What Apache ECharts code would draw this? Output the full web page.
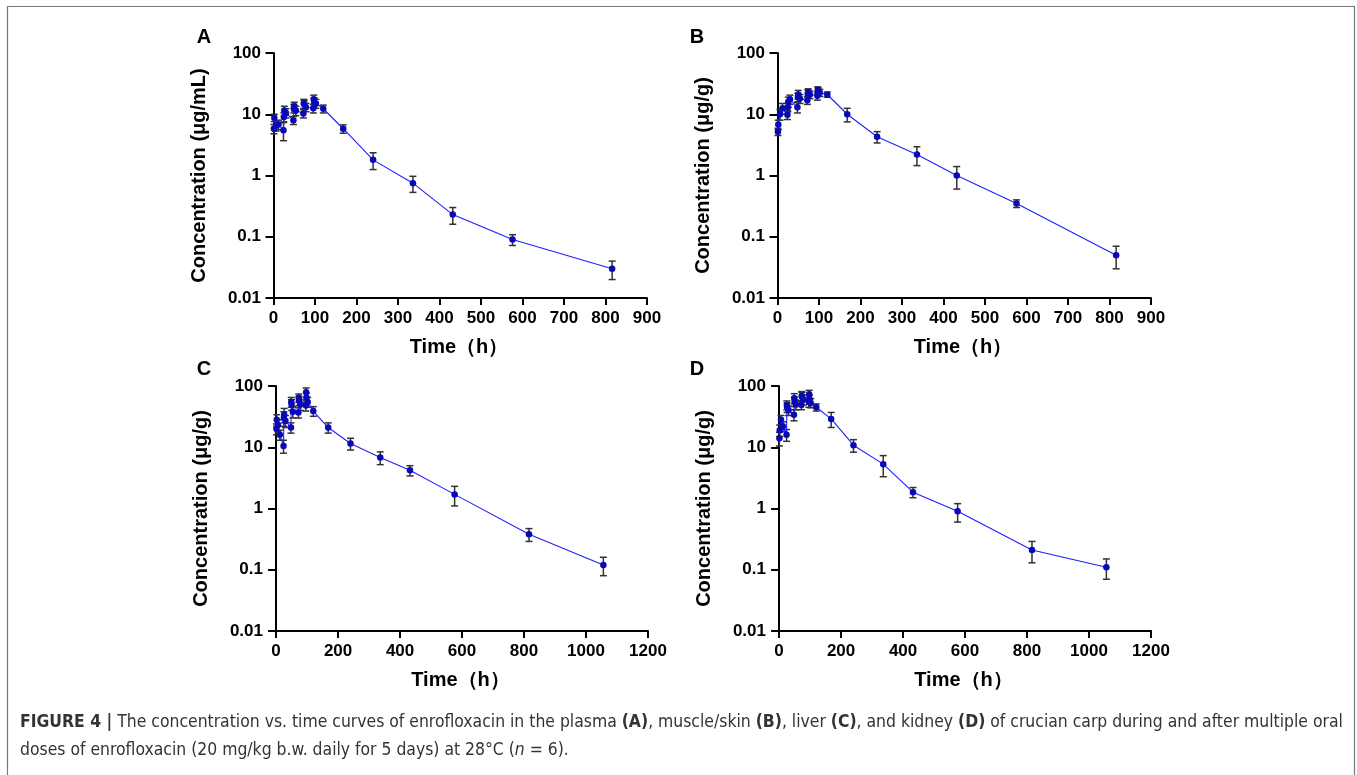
<!DOCTYPE html>
<html>
<head>
<meta charset="utf-8">
<script src="https://cdn.jsdelivr.net/npm/echarts@6/dist/echarts.min.js"></script>
<style>
html,body{margin:0;padding:0;background:#fff;}
#c{width:1357px;height:775px;}
</style>
</head>
<body>
<div id="c"></div>
<script>
// ---- data ----
const timesAB = [1, 2, 6, 12, 24, 25, 26, 30, 48, 49, 50, 54, 72, 73, 74, 78, 96, 97, 98, 102, 120, 168, 240, 336, 432, 576, 816];
const timesCD = [1, 2, 6, 12, 24, 25, 26, 30, 48, 49, 50, 54, 72, 73, 74, 78, 96, 97, 98, 102, 120, 168, 240, 336, 432, 576, 816, 1056];

const plasmaMean = [5.8, 8.8, 6.5, 6.8, 5.5, 9.0, 11.5, 10.5, 8.0, 12.5, 13.5, 11.5, 10.3, 15.0, 14.5, 13.0, 12.5, 17.5, 16.0, 15.0, 12.3, 5.8, 1.8, 0.75, 0.23, 0.09, 0.03];
const plasmaSD   = [1.0, 1.2, 1.2, 1.2, 1.8, 1.5, 2.0, 1.8, 1.2, 2.0, 2.2, 2.0, 1.6, 2.5, 2.2, 2.0, 2.0, 3.0, 2.5, 2.5, 1.8, 0.9, 0.55, 0.22, 0.07, 0.018, 0.01];

const muscleMean = [5.2, 6.8, 10.0, 12.5, 9.8, 13.0, 16.0, 17.5, 13.0, 19.0, 21.0, 18.0, 17.0, 22.0, 23.0, 21.0, 20.0, 25.0, 24.0, 22.5, 21.0, 10.0, 4.3, 2.2, 1.0, 0.35, 0.05];
const muscleSD   = [0.7, 1.2, 2.0, 2.5, 1.6, 2.0, 3.0, 3.0, 2.5, 3.0, 3.5, 3.0, 2.5, 3.0, 3.0, 3.0, 3.0, 3.0, 3.0, 3.0, 2.0, 2.5, 0.9, 0.75, 0.4, 0.05, 0.02];

const liverMean = [20, 28, 23, 16, 10.5, 30, 34, 27, 21, 55, 50, 38, 37, 64, 58, 50, 48, 79, 65, 55, 39, 21, 11.5, 6.8, 4.2, 1.7, 0.38, 0.12];
const liverSD   = [4, 6, 5, 3, 2.5, 8, 9, 6, 4, 10, 10, 8, 7, 10, 10, 10, 9, 14, 12, 10, 7, 4, 2.5, 1.6, 0.8, 0.6, 0.09, 0.04];

const kidneyMean = [14, 19, 28, 22, 16, 49, 45, 40, 34, 63, 56, 50, 49, 69, 67, 60, 55, 73, 61, 53, 45, 29, 10.8, 5.3, 1.85, 0.9, 0.21, 0.11];
const kidneySD   = [3.5, 4, 5, 4, 3.5, 8, 8, 7, 7, 12, 10, 9, 8, 12, 12, 11, 10, 12, 10, 9, 6, 8, 2.5, 2, 0.35, 0.3, 0.08, 0.04];

const xTicksAB = [0, 100, 200, 300, 400, 500, 600, 700, 800, 900];
const xTicksCD = [0, 200, 400, 600, 800, 1000, 1200];
const yTickLabels = ['0.01', '0.1', '1', '10', '100'];

const panelLetters = ['A', 'B', 'C', 'D'];
const yTitles = ['Concentration (μg/mL)', 'Concentration (μg/g)', 'Concentration (μg/g)', 'Concentration (μg/g)'];
const xTitle = 'Time（h）';

// ---- chart ----
const FONT = '"Liberation Sans", Arial, sans-serif';
const chart = echarts.init(document.getElementById('c'), null, {renderer: 'canvas'});

const panels = [
  {t: timesAB, m: plasmaMean, s: plasmaSD, ticks: xTicksAB, min: -6, max: 900},
  {t: timesAB, m: muscleMean, s: muscleSD, ticks: xTicksAB, min: -6, max: 900},
  {t: timesCD, m: liverMean, s: liverSD, ticks: xTicksCD, min: -10, max: 1200},
  {t: timesCD, m: kidneyMean, s: kidneySD, ticks: xTicksCD, min: -10, max: 1200}
];
const gridPos = [
  {left: 271, top: 53, width: 376, height: 245},
  {left: 775, top: 53, width: 376, height: 245},
  {left: 273, top: 386, width: 375, height: 245},
  {left: 776, top: 386, width: 375, height: 245}
];

const grids = [], xAxes = [], yAxes = [], series = [];
const axisLabelStyle = {fontFamily: FONT, fontWeight: 'bold', fontSize: 17, color: '#000'};
const titleStyle = {fontFamily: FONT, fontWeight: 'bold', fontSize: 20, color: '#000'};
panels.forEach((p, i) => {
  grids.push(Object.assign({containLabel: false}, gridPos[i]));
  xAxes.push({
    type: 'value', gridIndex: i, min: p.min, max: p.max,
    name: xTitle, nameLocation: 'middle', nameGap: 39,
    nameTextStyle: titleStyle,
    axisLine: {show: true, onZero: false, lineStyle: {color: '#000', width: 2}},
    axisTick: {show: true, length: 7, lineStyle: {color: '#000', width: 2}, customValues: p.ticks},
    axisLabel: Object.assign({margin: 12, customValues: p.ticks, formatter: v => String(v)}, axisLabelStyle),
    splitLine: {show: false}
  });
  yAxes.push({
    type: 'log', logBase: 10, gridIndex: i, min: 0.01, max: 100,
    name: yTitles[i], nameLocation: 'middle', nameGap: 62, nameRotate: 90,
    nameTextStyle: titleStyle,
    axisLine: {show: true, lineStyle: {color: '#000', width: 2}},
    axisTick: {show: true, length: 8, lineStyle: {color: '#000', width: 2}},
    axisLabel: Object.assign({margin: 10, formatter: v => {
      const k = Math.round(Math.log10(v)) + 2; return yTickLabels[k] !== undefined ? yTickLabels[k] : '';
    }}, axisLabelStyle),
    splitLine: {show: false}, minorTick: {show: false}
  });
  const err = p.t.map((t, j) => [t, Math.max(p.m[j] - p.s[j], 0.0105), p.m[j] + p.s[j]]);
  series.push({
    type: 'custom', xAxisIndex: i, yAxisIndex: i, z: 2,
    data: err, encode: {x: 0, y: [1, 2]},
    renderItem: (params, api) => {
      const x = api.value(0);
      const a = api.coord([x, api.value(2)]);
      const b = api.coord([x, api.value(1)]);
      const w = 3.5;
      const st = {stroke: '#333', lineWidth: 1.5};
      return {type: 'group', children: [
        {type: 'line', shape: {x1: a[0], y1: a[1], x2: b[0], y2: b[1]}, style: st},
        {type: 'line', shape: {x1: a[0] - w, y1: a[1], x2: a[0] + w, y2: a[1]}, style: st},
        {type: 'line', shape: {x1: b[0] - w, y1: b[1], x2: b[0] + w, y2: b[1]}, style: st}
      ]};
    },
    silent: true
  });
  series.push({
    type: 'line', xAxisIndex: i, yAxisIndex: i, z: 3,
    data: p.t.map((t, j) => [t, p.m[j]]),
    symbol: 'circle', symbolSize: 6.5, showSymbol: true,
    lineStyle: {color: '#1f1fff', width: 1.1},
    itemStyle: {color: '#0808b8', borderWidth: 0},
    animation: false, silent: true
  });
});

const letterPos = [[204, 37], [697, 37], [204, 369], [697, 369]];
const graphic = [
  {type: 'rect', shape: {x: 7.5, y: 6.5, width: 1347, height: 790}, style: {fill: 'none', stroke: '#777', lineWidth: 1.2}, silent: true}
];
letterPos.forEach((pos, i) => {
  graphic.push({type: 'text', x: pos[0], y: pos[1], style: {text: panelLetters[i], fontFamily: FONT, fontWeight: 'bold', fontSize: 20, fill: '#000', align: 'center', verticalAlign: 'middle'}});
});
const CAP = '"Liberation Sans Narrow", "DejaVu Sans Condensed", "Liberation Sans", sans-serif';
graphic.push({type: 'text', left: 20, top: 714, style: {
  text: '{b|FIGURE 4 |} The concentration vs. time curves of enrofloxacin in the plasma {b|(A)}, muscle/skin {b|(B)}, liver {b|(C)}, and kidney {b|(D)} of crucian carp during and after multiple oral',
  fontFamily: CAP, fontSize: 17.4, fill: '#333',
  rich: {b: {fontFamily: CAP, fontSize: 17.4, fontWeight: 'bold', fill: '#333'}}
}});
graphic.push({type: 'text', left: 20, top: 742, style: {
  text: 'doses of enrofloxacin (20 mg/kg b.w. daily for 5 days) at 28°C ({i|n} = 6).',
  fontFamily: CAP, fontSize: 17.4, fill: '#333',
  rich: {i: {fontFamily: CAP, fontSize: 17.4, fontStyle: 'italic', fill: '#333'}}
}});

chart.setOption({
  backgroundColor: '#fff',
  animation: false,
  grid: grids, xAxis: xAxes, yAxis: yAxes, series: series, graphic: graphic
});
</script>
</body>
</html>
